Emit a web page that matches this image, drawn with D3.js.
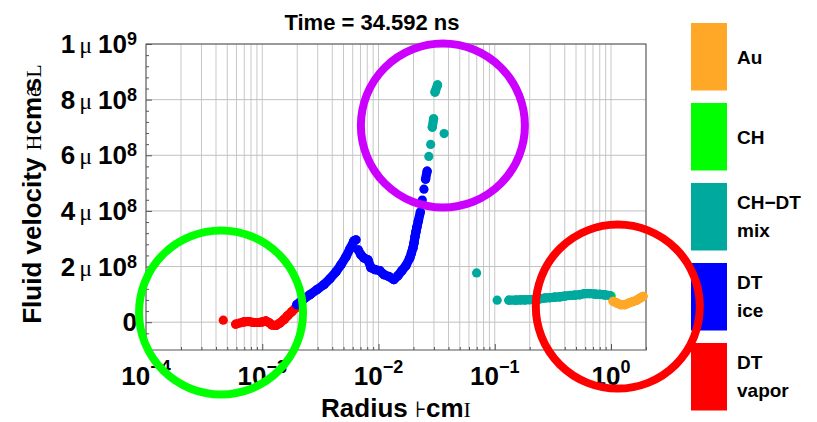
<!DOCTYPE html>
<html>
<head>
<meta charset="utf-8">
<script src="https://cdn.jsdelivr.net/npm/d3@7"></script>
<style>
  body { margin: 0; background: #fff; }
  text { font-family: "Liberation Sans", Arial, sans-serif; fill: #000; }
</style>
</head>
<body>
<svg id="chart" width="817" height="422"></svg>
<script>
// radius (cm) and fluid velocity (cm/s)
var vaporR = [4.62e-4, 5.91e-4, 7.00e-4, 7.68e-4, 8.40e-4, 9.24e-4, 9.94e-4, 1.076e-3, 1.14e-3, 1.21e-3, 1.31e-3, 1.42e-3, 1.54e-3, 1.66e-3, 1.80e-3, 1.93e-3];
var vaporV = [7.2e6, -7.2e6, 1.4e6, 2.5e6, -1.1e6, -1.1e6, 0.7e6, 4.3e6, -1.1e6, -1.0e7, -1.18e7, -2.9e6, 9.7e6, 2.4e7, 3.8e7, 5.1e7];

var iceR = [1.98e-3, 2.24e-3, 2.57e-3, 2.95e-3, 3.39e-3, 3.82e-3, 4.31e-3, 4.75e-3, 5.25e-3, 5.68e-3, 6.14e-3, 6.40e-3, 6.69e-3, 7.06e-3, 7.48e-3, 8.11e-3, 8.61e-3, 9.31e-3, 1.028e-2, 1.11e-2, 1.23e-2, 1.355e-2, 1.47e-2, 1.59e-2, 1.72e-2, 1.86e-2, 1.92e-2, 1.98e-2, 2.02e-2, 2.06e-2, 2.10e-2, 2.14e-2, 2.20e-2, 2.29e-2, 2.38e-2, 2.46e-2, 2.54e-2, 2.62e-2];
var iceV = [6.3e7, 8.1e7, 9.9e7, 1.17e8, 1.35e8, 1.56e8, 1.81e8, 2.06e8, 2.35e8, 2.64e8, 2.92e8, 2.96e8, 2.60e8, 2.42e8, 2.31e8, 2.24e8, 1.96e8, 1.89e8, 1.85e8, 1.71e8, 1.64e8, 1.53e8, 1.67e8, 1.85e8, 2.03e8, 2.31e8, 2.49e8, 2.67e8, 2.85e8, 3.07e8, 3.25e8, 3.42e8, 3.64e8, 3.96e8, 4.39e8, 4.78e8, 5.14e8, 5.43e8];

var mixR = [2.71e-2, 2.81e-2, 2.90e-2, 2.98e-2, 3.06e-2, 3.22e-2, 3.67e-2, 6.98e-2, 0.1049, 0.1322, 0.1519, 0.1667, 0.1815, 0.2004, 0.2212, 0.2442, 0.2697, 0.2977, 0.3287, 0.3629, 0.4007, 0.4423, 0.4884, 0.5392, 0.5953, 0.6572, 0.7256, 0.8011, 0.8845, 0.9766];
var mixV = [5.96e8, 6.39e8, 7.01e8, 7.31e8, 8.27e8, 8.53e8, 6.78e8, 1.77e8, 7.9e7, 7.9e7, 7.9e7, 8.0e7, 8.0e7, 8.1e7, 8.2e7, 8.4e7, 8.7e7, 8.8e7, 9.0e7, 9.1e7, 9.4e7, 9.6e7, 9.7e7, 9.9e7, 1.03e8, 1.03e8, 1.01e8, 1.0e8, 9.8e7, 9.6e7];

var chR = [1.006];
var chV = [9.4e7];

var auR = [1.042, 1.122, 1.214, 1.314, 1.423, 1.540, 1.667, 1.786, 1.888];
var auV = [7.5e7, 6.9e7, 6.3e7, 6.3e7, 6.9e7, 7.4e7, 7.9e7, 8.7e7, 9.3e7];

// legend
var legendNames = [["Au"], ["CH"], ["CH\u2212DT", "mix"], ["DT", "ice"], ["DT", "vapor"]];
var legendColors = ["#ffa726", "#00ff00", "#00a99d", "#0000ff", "#ff0000"];

// ticks
var xMajor = [1e-4, 1e-3, 1e-2, 1e-1, 1];
var xMajorExp = ["\u22124", "\u22123", "\u22122", "\u22121", "0"];
var yMajor = [0, 2e8, 4e8, 6e8, 8e8, 1e9];
var yMant = ["0", "2", "4", "6", "8", "1"];
var yExp = ["", "8", "8", "8", "8", "9"];

// highlight rings, centres in data units
var ringR = [4.42e-4, 3.58e-2, 1.144];
var ringV = [3.5e7, 7.07e8, 5.6e7];
var ringColors = ["#00ff00", "#cc00ff", "#ff0000"];

var svg = d3.select("#chart");
var pLeft = 146, pRight = 646, pTop = 44, pBottom = 350;

var x = d3.scaleLog().domain([1e-4, 2]).range([pLeft, pRight]);
var y = d3.scaleLinear().domain([-1e8, 1e9]).range([pBottom, pTop]);

// grid
svg.append("g").selectAll("line").data(x.ticks()).enter().append("line")
  .attr("x1", d => x(d)).attr("x2", d => x(d))
  .attr("y1", pTop).attr("y2", pBottom)
  .attr("stroke", "#c8c8c8").attr("stroke-width", 1);
svg.append("g").selectAll("line").data(yMajor).enter().append("line")
  .attr("x1", pLeft).attr("x2", pRight)
  .attr("y1", d => y(d)).attr("y2", d => y(d))
  .attr("stroke", "#c0c0c0").attr("stroke-width", 1);

// frame + inward ticks
svg.append("rect").attr("x", pLeft).attr("y", pTop)
  .attr("width", pRight - pLeft).attr("height", pBottom - pTop)
  .attr("fill", "none").attr("stroke", "#555").attr("stroke-width", 1);

var xAxis = d3.axisBottom(x).tickValues(x.ticks()).tickSize(-3).tickFormat("");
svg.append("g").attr("transform", "translate(0," + pBottom + ")").call(xAxis)
  .call(g => g.select(".domain").remove())
  .selectAll("line").attr("stroke", "#555")
  .attr("y2", d => xMajor.indexOf(d) >= 0 ? -6 : -3);

var yMinor = d3.range(-8e7, 1e9 + 1, 4e7);
var yAxis = d3.axisLeft(y).tickValues(yMinor).tickSize(-3).tickFormat("");
svg.append("g").attr("transform", "translate(" + pLeft + ",0)").call(yAxis)
  .call(g => g.select(".domain").remove())
  .selectAll("line").attr("stroke", "#555")
  .attr("x2", d => Math.abs(d % 2e8) < 1 ? 6 : 3);

// x tick labels
xMajor.forEach(function (v, i) {
  var t = svg.append("text").attr("x", x(v)).attr("y", 385)
    .attr("text-anchor", "middle").style("font-size", "26px").style("font-weight", "bold");
  t.append("tspan").text("10");
  t.append("tspan").attr("dy", -12).style("font-size", "18px").text(xMajorExp[i]);
});

// y tick labels
yMajor.forEach(function (v, i) {
  var t = svg.append("text").attr("x", 137).attr("y", y(v) + 9)
    .attr("text-anchor", "end").style("font-size", "26px").style("font-weight", "bold");
  t.append("tspan").text(yMant[i]);
  if (yExp[i]) {
    t.append("tspan").attr("dx", 4).style("font-family", "'Liberation Serif', serif")
      .style("font-weight", "normal").style("font-size", "24px").text("\u03bc");
    t.append("tspan").attr("dx", 6).text("10");
    t.append("tspan").attr("dy", -8).style("font-size", "18px").text(yExp[i]);
  }
});

// title and axis labels
svg.append("text").attr("x", 372).attr("y", 30).attr("text-anchor", "middle")
  .style("font-size", "22px").style("font-weight", "bold").text("Time = 34.592 ns");

var xl = svg.append("text").attr("x", (pLeft + pRight) / 2).attr("y", 417)
  .attr("text-anchor", "middle").style("font-size", "26px").style("font-weight", "bold");
xl.append("tspan").text("Radius ");
xl.append("tspan").style("font-family", "'Liberation Serif', serif").style("font-weight", "normal").style("font-size", "22px").text("\u22a6");
xl.append("tspan").text("cm");
xl.append("tspan").style("font-family", "'Liberation Serif', serif").style("font-weight", "normal").style("font-size", "22px").text("I");

var yl = svg.append("text").attr("transform", "translate(41," + ((pTop + pBottom) / 2 - 3) + ") rotate(-90)")
  .attr("text-anchor", "middle").style("font-size", "26px").style("font-weight", "bold");
yl.append("tspan").text("Fluid velocity ");
yl.append("tspan").style("font-family", "'Liberation Serif', serif").style("font-weight", "normal").style("font-size", "22px").text("H");
yl.append("tspan").text("cm");
yl.append("tspan").style("font-family", "'Liberation Serif', serif").style("font-weight", "normal").style("font-size", "22px").text("\u00ea");
yl.append("tspan").attr("dx", -5).text("s");
yl.append("tspan").style("font-family", "'Liberation Serif', serif").style("font-weight", "normal").style("font-size", "22px").text("L");

// markers
var markR = 4.6;
function drawSeries(rs, vs, color) {
  var pts = rs.map((r, i) => [x(r), y(vs[i])]);
  var g = svg.append("g");
  for (var i = 0; i < pts.length - 1; i++) {
    var a = pts[i], b = pts[i + 1];
    if (Math.hypot(b[0] - a[0], b[1] - a[1]) < 10) {
      g.append("line").attr("x1", a[0]).attr("y1", a[1]).attr("x2", b[0]).attr("y2", b[1])
        .attr("stroke", color).attr("stroke-width", markR * 2).attr("stroke-linecap", "round");
    }
  }
  g.selectAll("circle").data(pts).enter().append("circle")
    .attr("cx", d => d[0]).attr("cy", d => d[1]).attr("r", markR).attr("fill", color);
}
drawSeries(vaporR, vaporV, legendColors[4]);
drawSeries(iceR, iceV, legendColors[3]);
drawSeries(chR, chV, legendColors[1]);
drawSeries(mixR, mixV, legendColors[2]);
drawSeries(auR, auV, legendColors[0]);

// legend
var lg = svg.append("g");
legendNames.forEach(function (lines, i) {
  var y0 = 23 + i * 80;
  lg.append("rect").attr("x", 691).attr("y", y0).attr("width", 36).attr("height", 67.5)
    .attr("fill", legendColors[i]);
  var cy = y0 + 34;
  var base = lines.length === 1 ? [cy + 7] : [cy - 8, cy + 20];
  lines.forEach(function (s, j) {
    lg.append("text").attr("x", 737).attr("y", base[j])
      .style("font-size", "19px").style("font-weight", "bold").text(s);
  });
});

// rings
svg.append("g").selectAll("circle").data(ringR).enter().append("circle")
  .attr("cx", d => x(d)).attr("cy", (d, i) => y(ringV[i])).attr("r", 82)
  .attr("fill", "none").attr("stroke", (d, i) => ringColors[i]).attr("stroke-width", 8);
</script>
</body>
</html>
